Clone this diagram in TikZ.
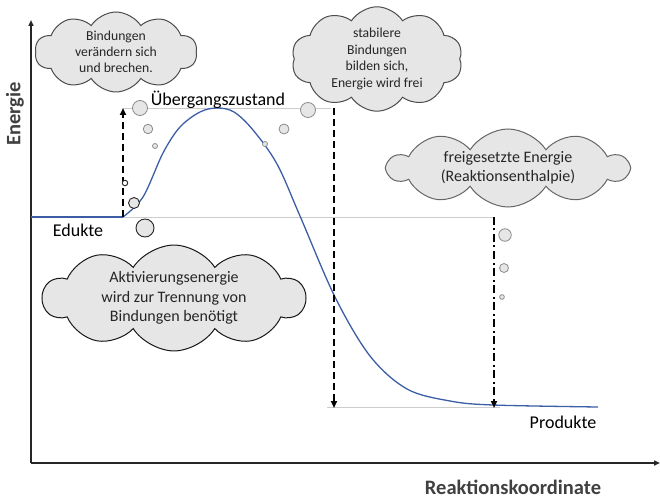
\documentclass[tikz,border=0pt]{standalone}
\usepackage{fontspec}
\setmainfont{Carlito}
\usetikzlibrary{shapes.symbols,arrows.meta}
\definecolor{curveblue}{RGB}{59,94,166}
\definecolor{cloudfill}{RGB}{230,230,230}
\definecolor{refgray}{RGB}{205,205,205}
\definecolor{labelgray}{RGB}{64,64,64}
\begin{document}
\begin{tikzpicture}[x=1pt,y=-1pt,
  thought/.style={cloud, cloud puffs=10, cloud puff arc=115, cloud ignores aspect, fill=cloudfill, line width=1pt, inner sep=0pt, align=center, text=black!85},
  bubble/.style={circle, draw=black!45, fill=cloudfill, line width=0.8pt, inner sep=0pt},
  darkbubble/.style={circle, draw=black!85, fill=cloudfill, line width=0.9pt, inner sep=0pt},
  refline/.style={draw=refgray, line width=0.9pt},
  axis/.style={line width=1.7pt, draw=black!85, -{Triangle[length=6pt,width=5pt]}},
  dasharrow/.style={line width=2.3pt, dash pattern=on 7pt off 4pt, -{Triangle[length=7pt,width=6pt]}},
  dashdotarrow/.style={line width=2.3pt, dash pattern=on 8pt off 3.5pt on 2pt off 3.5pt, -{Triangle[length=7pt,width=6pt]}},
  lbl/.style={inner sep=0pt, font=\fontsize{18}{21}\selectfont},
  axlbl/.style={inner sep=0pt, text=labelgray, font=\fontsize{20.5}{24}\selectfont\bfseries},
]
\useasboundingbox (0,0) rectangle (660,502);

% axes
\coordinate (O) at (31,463);
\coordinate (ytop) at (31,20);
\coordinate (xend) at (660,463);
\draw[axis] (O) -- (ytop);
\draw[axis] (O) -- (xend);
\node[axlbl, rotate=90] (ylabel) at (15,114) {Energie};
\node[axlbl] (xlabel) at (513,487) {Reaktionskoordinate};

% reference levels
\coordinate (e0) at (123,217);
\coordinate (e1) at (495,217);
\coordinate (t0) at (123,108);
\coordinate (t1) at (331,108);
\coordinate (p0) at (327,407);
\coordinate (p1) at (500,407);
\draw[refline] (e0) -- (e1);
\draw[refline] (t0) -- (t1);
\draw[refline] (p0) -- (p1);

% energy curve
\draw[curveblue, line width=1.3pt] (31,217) -- (e0);
\draw[curveblue, line width=1.3pt, line join=round] plot[smooth, tension=0.55] coordinates {(123,217) (143,197) (163,153) (180,127) (200,112) (217,108) (234,112) (253,130) (277,164) (300,216) (335,297) (370,356) (407,389) (450,401) (493,405) (598,407)};

% arrows
\coordinate (a0) at (123,217);
\coordinate (a1) at (123,108);
\coordinate (b0) at (334,108);
\coordinate (b1) at (334,408);
\coordinate (c0) at (494,217);
\coordinate (c1) at (494,408);
\draw[dasharrow] (a0) -- (a1);
\draw[dasharrow] (b0) -- (b1);
\draw[dashdotarrow] (c0) -- (c1);

% labels
\node[lbl] (ueb) at (218,100) {Übergangszustand};
\node[lbl] (edu) at (78,230) {Edukte};
\node[lbl] (pro) at (563,422) {Produkte};

% clouds
\node[thought, draw=black!70, minimum width=162pt, minimum height=80pt,
      font=\fontsize{13.7}{16}\selectfont] (c1n) at (116,52)
      {Bindungen\\verändern sich\\und brechen.};
\node[thought, draw=black!70, minimum width=171pt, minimum height=95pt,
      font=\fontsize{13.7}{16.5}\selectfont] (c2n) at (377,59)
      {stabilere\\Bindungen\\bilden sich,\\Energie wird frei};
\node[thought, draw=black!60, minimum width=240pt, minimum height=78pt,
      font=\fontsize{16}{19.5}\selectfont] (c3n) at (508,168)
      {freigesetzte Energie\\(Reaktionsenthalpie)};
\node[thought, draw=black!90, minimum width=262pt, minimum height=104pt,
      font=\fontsize{16}{19.5}\selectfont] (c4n) at (174,298)
      {Aktivierungsenergie\\wird zur Trennung von\\Bindungen benötigt};

% bubbles of cloud 1
\node[bubble, minimum size=15pt] (b11) at (140,108) {};
\node[bubble, minimum size=9.5pt] (b12) at (148,129) {};
\node[bubble, minimum size=5pt] (b13) at (155,146) {};
% bubbles of cloud 2
\node[bubble, minimum size=15pt] (b21) at (308,110) {};
\node[bubble, minimum size=10pt] (b22) at (284,129) {};
\node[bubble, minimum size=5pt] (b23) at (265,144) {};
% bubbles of cloud 3
\node[bubble, minimum size=12.5pt] (b31) at (505,235) {};
\node[bubble, minimum size=9pt] (b32) at (504,268) {};
\node[bubble, minimum size=4.7pt] (b33) at (502,297) {};
% bubbles of cloud 4
\node[darkbubble, minimum size=18pt] (b41) at (145,228) {};
\node[darkbubble, minimum size=11pt] (b42) at (134,203) {};
\node[darkbubble, fill=white, minimum size=5.5pt] (b43) at (125,183) {};
\end{tikzpicture}
\end{document}
